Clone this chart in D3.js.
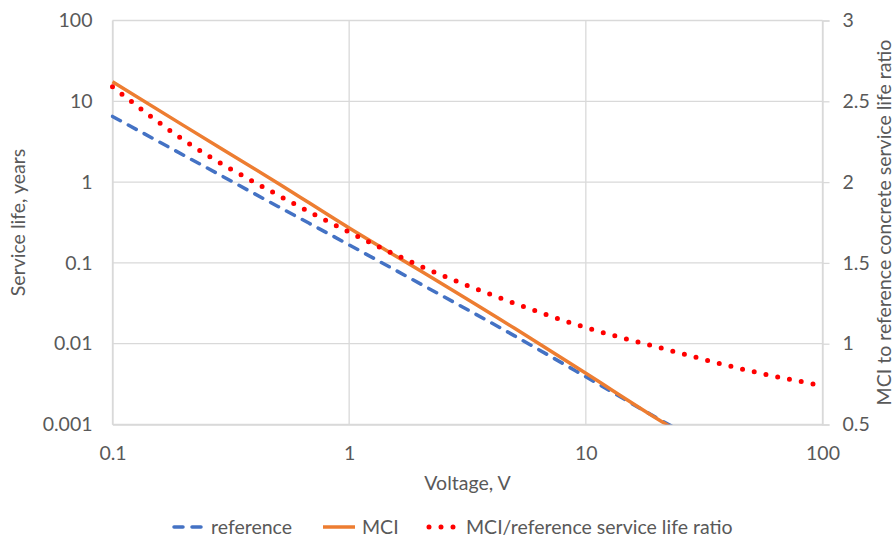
<!DOCTYPE html>
<html>
<head>
<meta charset="utf-8">
<script src="https://cdn.jsdelivr.net/npm/d3@7"></script>
<style>
  body { margin: 0; background: #fff; }
  text { font-family: Lato, "Open Sans", sans-serif; fill: #595959; }
</style>
</head>
<body>
<div id="chart_root"></div>
<script>
// voltages and values
const voltage = [0.1, 0.2, 0.5, 1, 2, 5, 10, 20, 50, 100];
const referenceLife = [6.5, 2.15, 0.5, 0.167, 0.055, 0.0125, 0.0039, 0.0012, 0.00028, 0.000088];
const mciLife = [17.5, 5.0, 0.97, 0.27, 0.08, 0.0155, 0.0043, 0.00118, 0.00024, 0.000068];
const lifeRatio = [2.59, 2.26, 1.92, 1.69, 1.48, 1.25, 1.10, 0.98, 0.83, 0.74];

const xTicks = [0.1, 1, 10, 100];
const yTicks = [0.001, 0.01, 0.1, 1, 10, 100];
const y2Ticks = [0.5, 1, 1.5, 2, 2.5, 3];
const legendNames = ["reference", "MCI", "MCI/reference service life ratio"];

const margin = { top: 20.5, right: 73.5, bottom: 112.5, left: 112.5 };
const W = 896, H = 537;
const width = W - margin.left - margin.right;
const height = H - margin.top - margin.bottom;
const fontSize = "19.5px";

const svg = d3.select("#chart_root")
    .append("svg")
    .attr("width", W)
    .attr("height", H);
const g = svg.append("g")
    .attr("transform", "translate(" + margin.left + "," + margin.top + ")");

const x = d3.scaleLog().domain([0.1, 100]).range([0, width]);
const y = d3.scaleLog().domain([0.001, 100]).range([height, 0]);
const y2 = d3.scaleLinear().domain([0.5, 3]).range([height, 0]);

const fmt = d => String(+d.toPrecision(3));

// gridlines
g.append("g")
    .selectAll("line")
    .data(yTicks)
    .enter()
    .append("line")
    .attr("x1", 0).attr("x2", width)
    .attr("y1", d => y(d)).attr("y2", d => y(d))
    .attr("stroke", "#d9d9d9").attr("stroke-width", 1.3);
g.append("g")
    .selectAll("line")
    .data(xTicks)
    .enter()
    .append("line")
    .attr("x1", d => x(d)).attr("x2", d => x(d))
    .attr("y1", 0).attr("y2", height)
    .attr("stroke", "#d9d9d9").attr("stroke-width", 1.3);

// axes
const xAxis = g.append("g")
    .attr("transform", "translate(0," + height + ")")
    .call(d3.axisBottom(x).tickValues(xTicks).tickFormat(fmt).tickSize(0).tickPadding(22));
const yAxis = g.append("g")
    .call(d3.axisLeft(y).tickValues(yTicks).tickFormat(fmt).tickSize(0).tickPadding(20));
const y2Axis = g.append("g")
    .attr("transform", "translate(" + width + ",0)")
    .call(d3.axisRight(y2).tickValues(y2Ticks).tickFormat(fmt).tickSize(7).tickPadding(13));

[xAxis, yAxis, y2Axis].forEach(a => {
    a.select(".domain").attr("stroke", "#d9d9d9").attr("stroke-width", 1.3);
    a.selectAll(".tick line").attr("stroke", "#d9d9d9").attr("stroke-width", 1.3);
    a.selectAll("text")
        .style("font-family", "Lato, 'Open Sans', sans-serif")
        .style("font-size", fontSize)
        .attr("fill", "#595959");
});

// axis titles
svg.append("text")
    .attr("text-anchor", "middle")
    .attr("x", margin.left + width / 2)
    .attr("y", 490)
    .style("font-size", fontSize)
    .text("Voltage, V");
svg.append("text")
    .attr("text-anchor", "middle")
    .attr("transform", "translate(25," + (margin.top + height / 2) + ") rotate(-90)")
    .style("font-size", fontSize)
    .text("Service life, years");
svg.append("text")
    .attr("text-anchor", "middle")
    .attr("transform", "translate(891," + (margin.top + height / 2) + ") rotate(-90)")
    .style("font-size", fontSize)
    .text("MCI to reference concrete service life ratio");

// series
svg.append("clipPath").attr("id", "plotclip")
    .append("rect").attr("x", -2).attr("y", -2)
    .attr("width", width + 4).attr("height", height + 2);
const plot = g.append("g").attr("clip-path", "url(#plotclip)");

const lineLeft = d3.line()
    .x((d, i) => x(voltage[i]))
    .y(d => y(d))
    .curve(d3.curveMonotoneX);
const lineRight = d3.line()
    .x((d, i) => x(voltage[i]))
    .y(d => y2(d))
    .curve(d3.curveMonotoneX);

plot.append("path")
    .datum(referenceLife)
    .attr("d", lineLeft)
    .attr("fill", "none")
    .attr("stroke", "#4472c4")
    .attr("stroke-width", 3.5)
    .attr("stroke-dasharray", "9,9")
    .attr("stroke-linecap", "round");
plot.append("path")
    .datum(mciLife)
    .attr("d", lineLeft)
    .attr("fill", "none")
    .attr("stroke", "#ed7d31")
    .attr("stroke-width", 3.5);
g.append("path")
    .datum(lifeRatio)
    .attr("d", lineRight)
    .attr("fill", "none")
    .attr("stroke", "#ff0000")
    .attr("stroke-width", 5)
    .attr("stroke-dasharray", "0,12")
    .attr("stroke-linecap", "round");

// legend
const legendY = 527;
const legendItems = [
    { x: 172, tx: 211, color: "#4472c4", dash: "9,9", cap: "round", w: 3.5 },
    { x: 323, tx: 362, color: "#ed7d31", dash: null, cap: "butt", w: 3.5 },
    { x: 427, tx: 466, color: "#ff0000", dash: "0,12", cap: "round", w: 5 }
];
const legend = svg.append("g");
legendItems.forEach((it, i) => {
    legend.append("line")
        .attr("x1", it.x + (it.cap === "round" ? 2 : 0))
        .attr("x2", it.x + 32)
        .attr("y1", legendY).attr("y2", legendY)
        .attr("stroke", it.color)
        .attr("stroke-width", it.w)
        .attr("stroke-dasharray", it.dash)
        .attr("stroke-linecap", it.cap);
    legend.append("text")
        .attr("x", it.tx)
        .attr("y", legendY)
        .attr("dy", "0.35em")
        .style("font-size", fontSize)
        .text(legendNames[i]);
});
</script>
</body>
</html>
